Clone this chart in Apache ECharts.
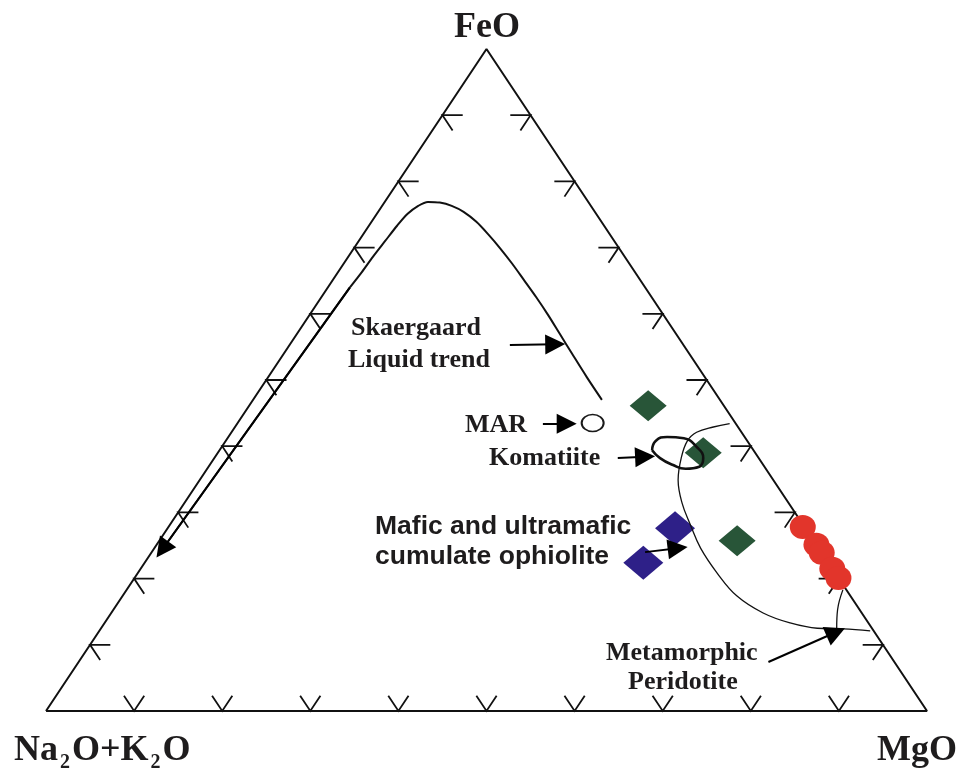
<!DOCTYPE html>
<html><head><meta charset="utf-8">
<script src="https://cdn.jsdelivr.net/npm/echarts@6/dist/echarts.min.js"></script>
<style>html,body{margin:0;padding:0;background:#fff}#c{width:964px;height:774px}</style>
</head><body><div id="c"></div>
<script>
// All compositions are ternary [Na2O+K2O, FeO, MgO] in %
const corners = [[100, 0, 0], [0, 0, 100], [0, 100, 0], [100, 0, 0]];
const tickValues = [10, 20, 30, 40, 50, 60, 70, 80, 90];
const cornerLabels = ['FeO', 'Na2O+K2O', 'MgO'];

const skaergaardCurve = [
  [13.4, 47.0, 39.6], [13.4, 50.4, 36.2], [13.3, 54.0, 32.7], [13.2, 56.9, 29.9],
  [13.1, 59.8, 27.1], [13.1, 62.5, 24.4], [13.2, 65.2, 21.6], [13.3, 67.6, 19.1],
  [13.5, 69.9, 16.6], [13.8, 72.0, 14.2], [14.2, 73.9, 11.9], [14.9, 75.4, 9.7],
  [15.8, 76.3, 7.9], [16.9, 76.8, 6.3], [18.2, 76.9, 4.9], [19.6, 76.3, 4.1],
  [21.4, 75.1, 3.5], [23.5, 73.3, 3.2], [26.0, 71.0, 3.0], [28.6, 68.6, 2.8],
  [31.0, 66.3, 2.7], [33.5, 64.0, 2.5]
];
const skaergaardDescent = [[33.5, 64.0, 2.5], [74.6, 24.4, 1.0]];

const komatiiteField = [
  [11.5, 39.4, 49.1], [10.4, 40.8, 48.8], [8.8, 41.4, 49.8], [7.0, 41.2, 51.8],
  [6.2, 39.9, 53.9], [6.3, 38.2, 55.5], [7.4, 36.9, 55.7], [9.1, 36.6, 54.3],
  [10.3, 37.2, 52.5], [11.2, 38.2, 50.6], [11.5, 39.4, 49.1]
];
const peridotiteEnvelope = [
  [0.7, 43.4, 55.9], [2.8, 42.9, 54.3], [5.1, 42.1, 52.8], [6.8, 40.8, 52.4],
  [8.8, 38.2, 53.0], [10.8, 34.9, 54.3], [12.1, 31.4, 56.5], [12.8, 28.1, 59.1],
  [13.4, 24.6, 62.0], [13.4, 20.8, 65.8], [12.9, 17.4, 69.7], [11.2, 14.8, 74.0],
  [8.9, 13.3, 77.8], [6.2, 12.5, 81.3], [3.3, 12.4, 84.3], [0.4, 12.1, 87.5]
];
const peridotiteBranch = [[4.0, 12.5, 83.5], [2.5, 15.3, 82.2], [0.4, 18.3, 81.3]];

const marPoint = [[16.2, 43.5, 40.3]];
const greenDiamonds = [[8.6, 46.1, 45.3], [5.9, 39.0, 55.1], [8.7, 25.7, 65.6]];
const blueDiamonds = [[14.8, 27.6, 57.6], [21.0, 22.4, 56.6]];
const redCircles = [[0.2, 27.8, 72.0], [0, 25.1, 74.9], [0, 23.9, 76.1], [0, 21.5, 78.5], [0, 20.1, 79.9]];

// arrows: [from, to]
const arrows = [
  [[19.7, 55.3, 25.0], [14.5, 55.4, 30.1]],   // Skaergaard
  [[21.9, 43.4, 34.7], [19.2, 43.4, 37.4]],   // MAR
  [[16.0, 38.2, 45.8], [12.8, 38.4, 48.8]],   // Komatiite
  [[20.0, 24.0, 56.0], [16.0, 24.6, 59.4]],   // ophiolite
  [[14.3, 7.4, 78.3], [4.4, 11.9, 83.7]]      // Metamorphic peridotite
];

function tern(p) {
  const s = p[0] + p[1] + p[2];
  const F = p[1] / s * 100, M = p[2] / s * 100;
  return [M + F / 2, F];
}

const T = 2.3; // tick stub length in %
const ticks = [];
tickValues.forEach(v => {
  ticks.push({coords: [tern([100 - v - T, v, T]), tern([100 - v, v, 0]), tern([100 - v, v - T, T])]});
  ticks.push({coords: [tern([T, v, 100 - v - T]), tern([0, v, 100 - v]), tern([T, v - T, 100 - v])]});
  ticks.push({coords: [tern([100 - v - T, T, v]), tern([100 - v, 0, v]), tern([100 - v, T, v - T])]});
});

const serif = "'Liberation Serif','Times New Roman',serif";
const sans = "'Liberation Sans',Arial,sans-serif";
const ink = '#1e1c1d';

function txt(text, x, y, opts) {
  opts = opts || {};
  return {
    type: 'text', x: x, y: y, z: 20,
    style: {
      text: text, fill: ink,
      fontSize: opts.size || 26, fontWeight: 'bold', fontFamily: opts.family || serif,
      align: opts.align || 'left', textAlign: opts.align || 'left',
      verticalAlign: 'middle', textVerticalAlign: 'middle',
      rich: opts.rich
    }
  };
}

const chart = echarts.init(document.getElementById('c'), null, {renderer: 'canvas'});
const lineBase = {type: 'line', symbol: 'none', showSymbol: false, clip: false, silent: true, animation: false};

chart.setOption({
  animation: false,
  grid: {left: 46, right: 37, top: 49, bottom: 63},
  xAxis: {type: 'value', min: 0, max: 100, show: false},
  yAxis: {type: 'value', min: 0, max: 100, show: false},
  series: [
    Object.assign({}, lineBase, {name: 'frame', data: corners.map(tern), z: 2,
      lineStyle: {color: '#111', width: 2}}),
    {type: 'lines', coordinateSystem: 'cartesian2d', polyline: true, data: ticks, clip: false,
      silent: true, z: 2, lineStyle: {color: '#111', width: 1.8, opacity: 1}, symbol: 'none'},
    {type: 'scatter', name: 'MAR', data: marPoint.map(tern), symbol: 'circle', symbolSize: [22, 17],
      clip: false, z: 3, itemStyle: {color: '#fff', borderColor: '#1a1a1a', borderWidth: 1.8, opacity: 1}},
    {type: 'scatter', name: 'green', data: greenDiamonds.map(tern), symbol: 'diamond', symbolSize: [37, 31],
      clip: false, z: 3, itemStyle: {color: '#285538', opacity: 1}},
    {type: 'scatter', name: 'blue', data: blueDiamonds.map(tern), symbol: 'diamond', symbolSize: [40, 34],
      clip: false, z: 3, itemStyle: {color: '#2e2088', opacity: 1}},
    Object.assign({}, lineBase, {name: 'Skaergaard', data: skaergaardCurve.map(tern), smooth: 0.3, z: 4,
      lineStyle: {color: '#111', width: 2}}),
    Object.assign({}, lineBase, {name: 'descent', data: skaergaardDescent.map(tern), z: 4,
      lineStyle: {color: '#111', width: 2}}),
    Object.assign({}, lineBase, {name: 'Komatiite', data: komatiiteField.map(tern), smooth: 0.5, z: 4,
      lineStyle: {color: '#111', width: 2.6}}),
    Object.assign({}, lineBase, {name: 'Peridotite', data: peridotiteEnvelope.map(tern), smooth: 0.4, z: 4,
      lineStyle: {color: '#111', width: 1.3}}),
    Object.assign({}, lineBase, {name: 'branch', data: peridotiteBranch.map(tern), smooth: 0.4, z: 4,
      lineStyle: {color: '#111', width: 1.3}}),
    {type: 'scatter', name: 'red', data: redCircles.map(tern), symbol: 'circle', symbolSize: [26, 24],
      clip: false, z: 5, itemStyle: {color: '#e2352b', opacity: 1}},
    {type: 'lines', coordinateSystem: 'cartesian2d', clip: false, silent: true, z: 6,
      data: arrows.concat([skaergaardDescent]).map(a => ({coords: [tern(a[0]), tern(a[1])]})),
      symbol: ['none', 'triangle'], symbolSize: 20,
      lineStyle: {color: '#000', width: 2, opacity: 1}, itemStyle: {color: '#000'}}
  ],
  graphic: [
    txt(cornerLabels[0], 487, 28, {size: 36, align: 'center'}),
    txt('{b|Na}{s|2}{b|O+K}{s|2}{b|O}', 13, 751, {size: 36, rich: {
      b: {fontSize: 36, fontWeight: 'bold', fontFamily: serif, fill: ink, padding: [0, 1, 0, 1]},
      s: {fontSize: 20, fontWeight: 'bold', fontFamily: serif, fill: ink, padding: [24, 1, 0, 1]}
    }}),
    txt(cornerLabels[2], 957, 751, {size: 36, align: 'right'}),
    txt('Skaergaard', 351, 328),
    txt('Liquid trend', 348, 360),
    txt('MAR', 465, 425),
    txt('Komatiite', 489, 458),
    txt('Mafic and ultramafic', 375, 527, {family: sans, size: 26.5}),
    txt('cumulate ophiolite', 375, 557, {family: sans, size: 26.5}),
    txt('Metamorphic', 606, 653),
    txt('Peridotite', 628, 682)
  ]
});
</script>
</body></html>
